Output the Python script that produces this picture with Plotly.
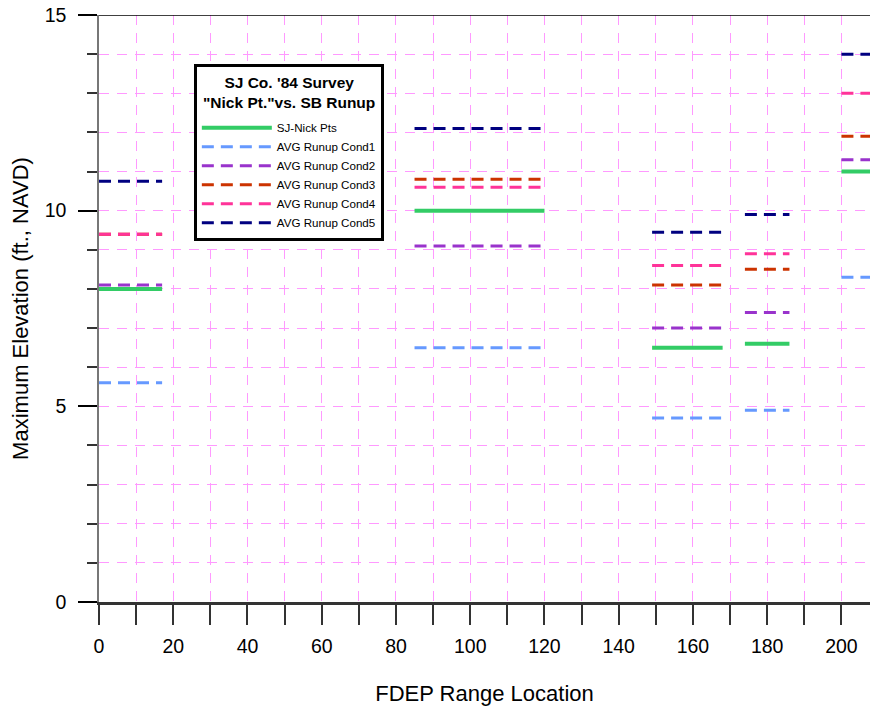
import plotly.graph_objects as go

# range-location segments (start / end of each surveyed reach)
seg_start = [0, 85, 149, 174, 200]
seg_end = [17, 120, 168, 186, 210]

# maximum elevations (ft., NAVD) per segment
sj_nick = [8.0, 10.0, 6.5, 6.6, 11.0]
cond1 = [5.6, 6.5, 4.7, 4.9, 8.3]
cond2 = [8.1, 9.1, 7.0, 7.4, 11.3]
cond3 = [9.4, 10.8, 8.1, 8.5, 11.9]
cond4 = [9.4, 10.6, 8.6, 8.9, 13.0]
cond5 = [10.75, 12.1, 9.45, 9.9, 14.0]

series = [
    ("SJ-Nick Pts", sj_nick, "#33cc66", "solid", 4),
    ("AVG Runup Cond1", cond1, "#6699ff", "12px,7px", 3),
    ("AVG Runup Cond2", cond2, "#9933cc", "12px,7px", 3),
    ("AVG Runup Cond3", cond3, "#cc3300", "12px,7px", 3),
    ("AVG Runup Cond4", cond4, "#ff3399", "12px,7px", 3),
    ("AVG Runup Cond5", cond5, "#000080", "12px,7px", 3),
]

legend_title = "SJ Co. '84 Survey<br>\"Nick Pt.\"vs. SB Runup"

FONT = "Arial, Liberation Sans, sans-serif"


def segments(vals):
    xs, ys = [], []
    for x0, x1, v in zip(seg_start, seg_end, vals):
        xs += [x0, x1, None]
        ys += [v, v, None]
    return xs, ys


fig = go.Figure()
for name, vals, color, dash, width in series:
    xs, ys = segments(vals)
    fig.add_trace(go.Scatter(
        x=xs, y=ys, mode="lines", name=name,
        line=dict(color=color, dash=dash, width=width),
    ))

grid = dict(showgrid=True, gridcolor="#ff99ff", gridwidth=1, griddash="10px,8px")

fig.update_layout(
    width=870, height=707,
    margin=dict(l=99, r=0, t=15, b=105),
    paper_bgcolor="white", plot_bgcolor="white",
    font=dict(family=FONT, color="black"),
    xaxis=dict(
        range=[0, 207.7], dtick=20, tick0=0,
        ticks="outside", ticklen=20, tickcolor="#333", tickwidth=1.5,
        tickfont=dict(size=19.5), ticklabelstandoff=5,
        showline=True, linecolor="#333", linewidth=2.5,
        zeroline=False, automargin=False,
        title=dict(text="FDEP Range Location", font=dict(size=22), standoff=30),
        minor=dict(dtick=10, ticks="outside", ticklen=20, tickcolor="#333",
                   showgrid=True, gridcolor="#ff99ff", griddash="10px,8px"),
        **grid,
    ),
    yaxis=dict(
        range=[0, 15], dtick=5, tick0=0,
        ticks="outside", ticklen=19, tickcolor="black", tickwidth=1.5,
        tickfont=dict(size=19.5), ticklabelstandoff=8,
        ticklabeloverflow="allow",
        showline=True, linecolor="#777", linewidth=1.5,
        zeroline=False, automargin=False,
        title=dict(text="Maximum Elevation (ft., NAVD)", font=dict(size=22), standoff=10),
        minor=dict(dtick=1, ticks="outside", ticklen=10, tickcolor="#333",
                   showgrid=True, gridcolor="#ff99ff", griddash="10px,8px"),
        **grid,
    ),
    showlegend=True,
    legend=dict(
        x=0.123, y=0.9165, xanchor="left", yanchor="top",
        bgcolor="white", bordercolor="black", borderwidth=3,
        font=dict(size=11.6, family=FONT),
        itemwidth=70,
        # blank title only reserves room; the visible title is an annotation
        title=dict(text="&nbsp;<br>&nbsp;",
                   font=dict(size=17.8, family=FONT, color="rgba(0,0,0,0)"),
                   side="top center"),
    ),
)

fig.add_annotation(
    text=legend_title, xref="paper", yref="paper", x=0.2464, y=0.8688,
    xanchor="center", yanchor="middle", showarrow=False,
    font=dict(size=15.5, family=FONT, weight="bold", color="black"),
)

# top border of the plot frame
fig.add_shape(type="line", xref="paper", yref="y", x0=0, x1=1, y0=15, y1=15,
              line=dict(color="black", width=1.5))

# drop the default 8px page margin so the figure fills the window
fig.write_html("out.html", config={"displayModeBar": False},
               post_script="document.body.style.margin='0';")
